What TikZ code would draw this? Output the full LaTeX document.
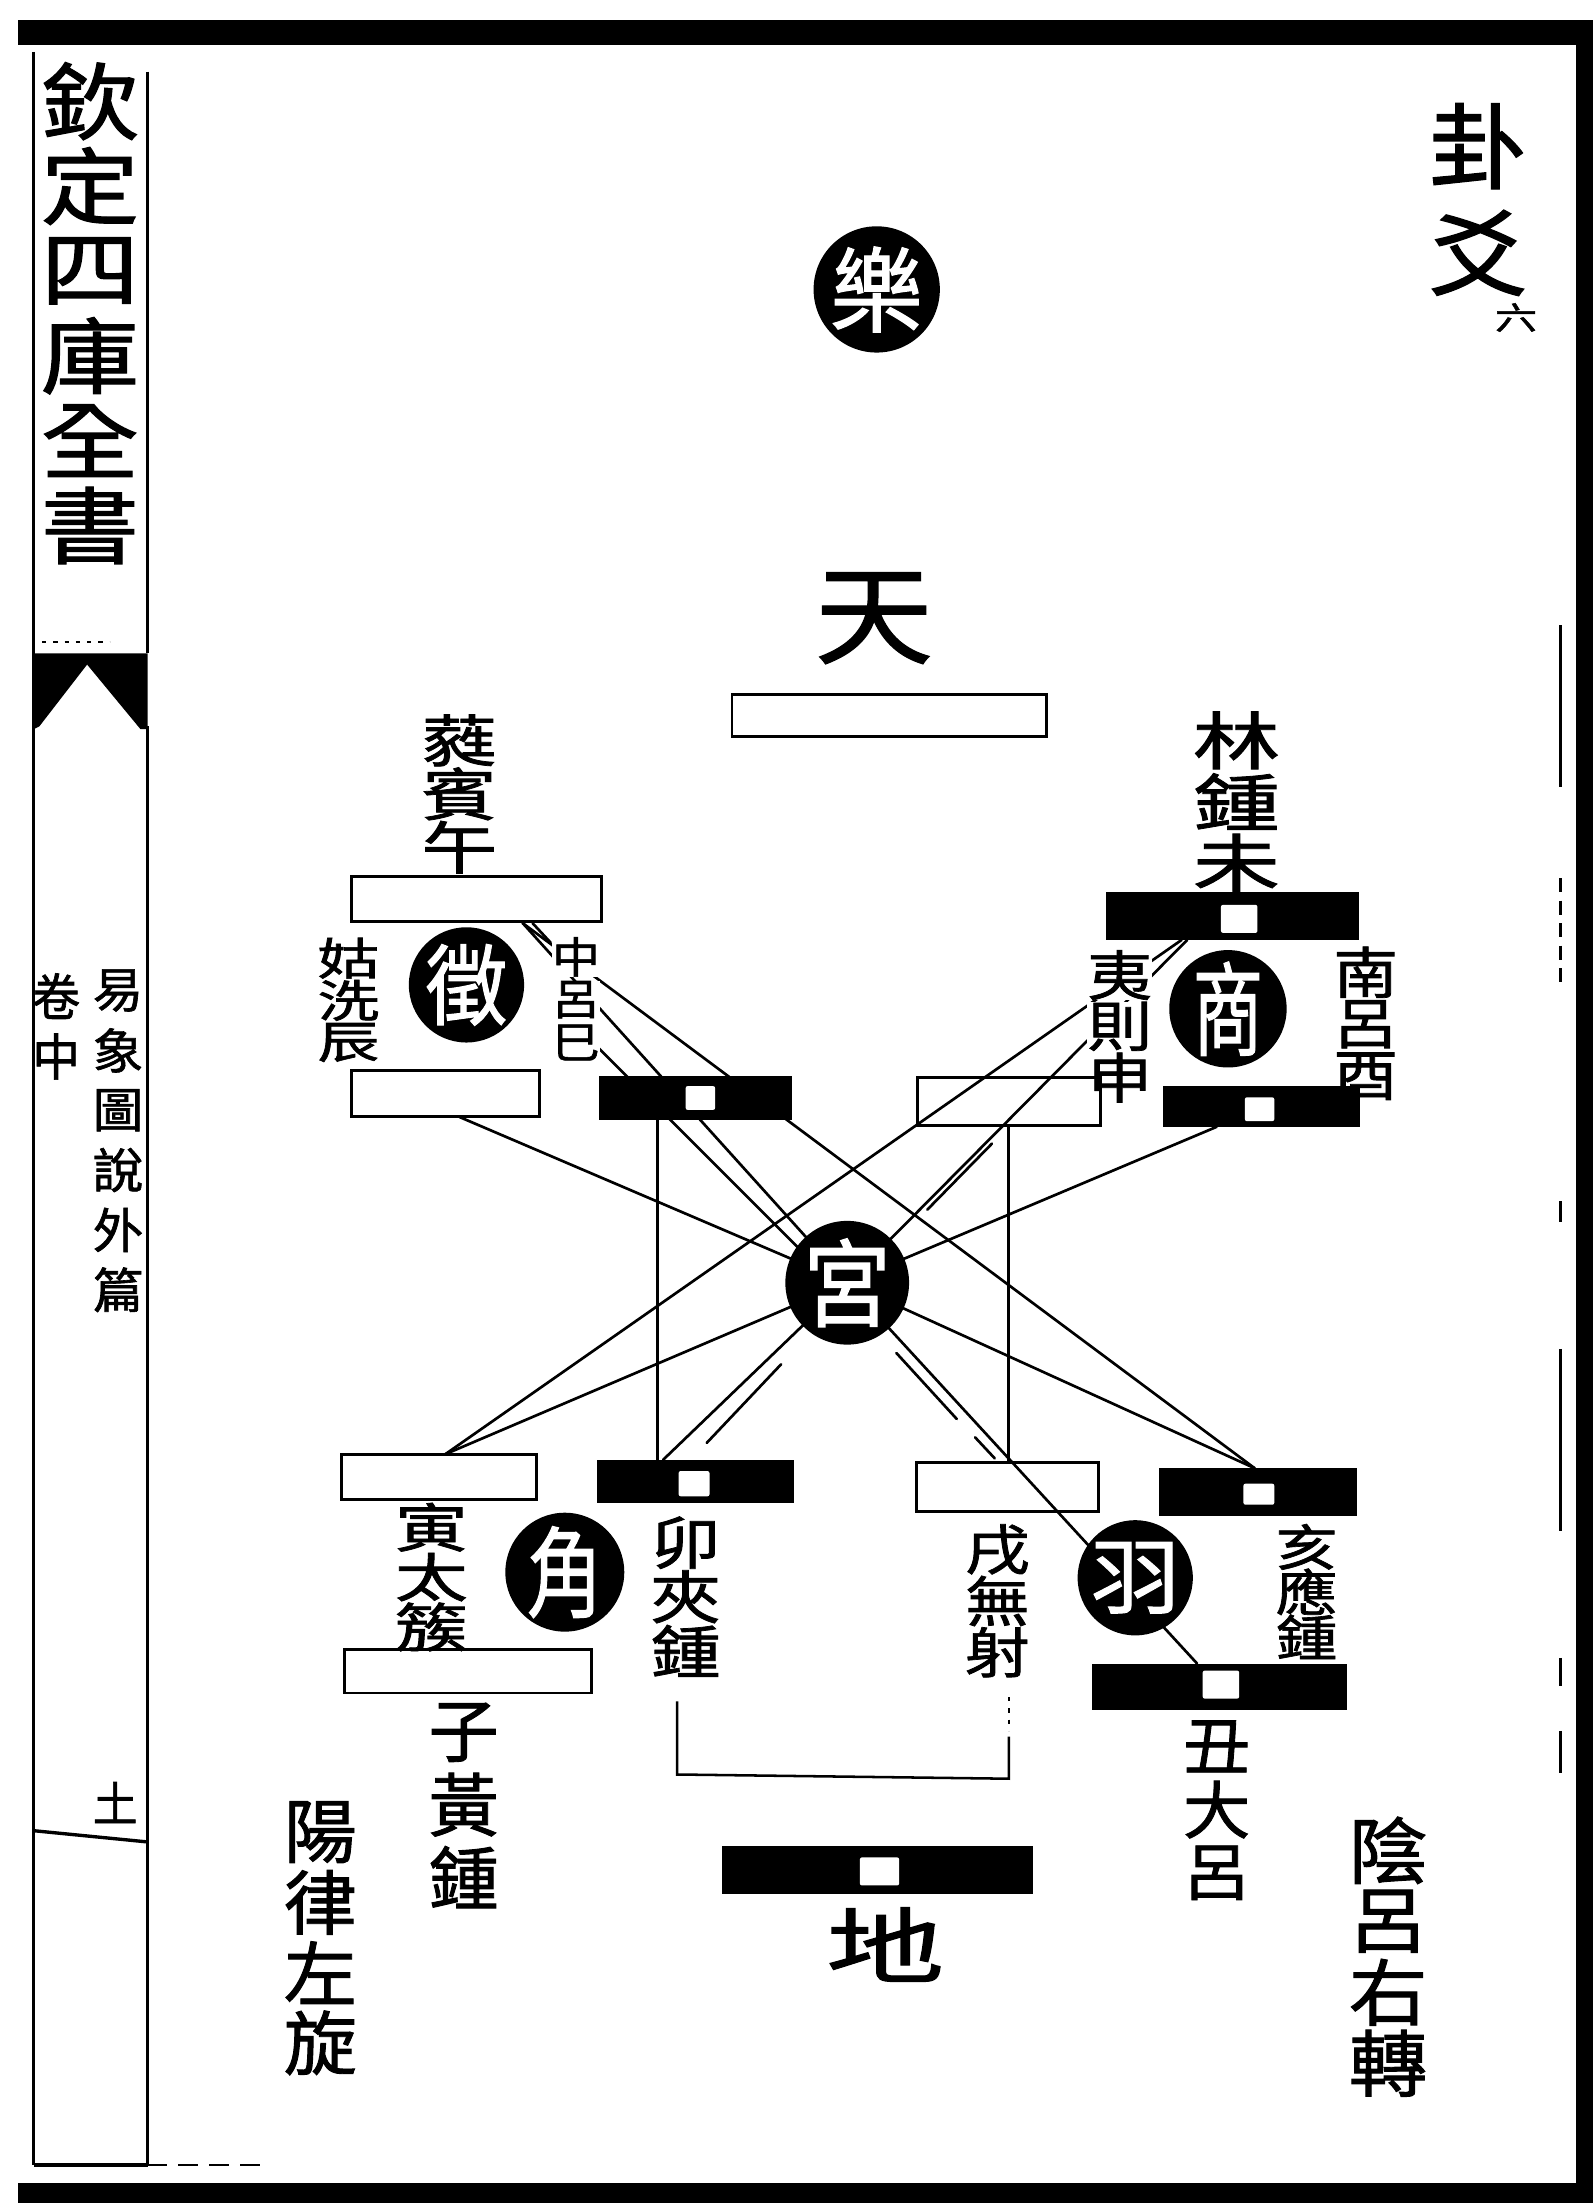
\documentclass[tikz,border=0pt]{standalone}
\usepackage{fontspec}
\usepackage{graphicx}
\newfontfamily\cjk[FakeBold=1.3]{Noto Sans CJK TC}
\usetikzlibrary{backgrounds}
\tikzset{
  conn/.style={line width=1.9pt, line cap=round},
  wbarst/.style={draw, line width=2.1pt, inner sep=0pt, outer sep=0pt},
  bbarst/.style={fill=black, inner sep=0pt, outer sep=0pt},
  sqst/.style={fill=white, inner sep=0pt, outer sep=0pt, rounded corners=1.5pt},
  discst/.style={circle, fill=black, text=white, inner sep=0pt},
  lbl/.style={inner sep=0pt, outer sep=0pt},
  colline/.style={line width=2.4pt},
}
\newcommand\myvcol[8]{%
  \foreach \ch [count=\i] in {#8}{%
    \node[lbl,#7,font=\cjk\fontsize{#5}{#5}\selectfont] (#1\i) at (#2,{#3+(\i-1)*(#4)}) {\scalebox{1}[#6]{\ch}};}}
\newcommand\mydisc[7]{%
  \node[discst, minimum size={2*#4*1pt}, font=\cjk\fontsize{#5}{#5}\selectfont] (#1) at (#2,#3) {\scalebox{1}[#6]{#7}};}
\newcommand\mywbar[5]{%
  \node[wbarst, minimum width={(#4-#2)*1pt}, minimum height={(#5-#3)*1pt}] (#1) at ({(#2+#4)/2},{(#3+#5)/2}) {};}
\newcommand\mybbar[9]{%
  \node[bbarst, minimum width={(#4-#2)*1pt}, minimum height={(#5-#3)*1pt}] (#1) at ({(#2+#4)/2},{(#3+#5)/2}) {};%
  \node[sqst, minimum width={(#8-#6)*1pt}, minimum height={(#9-#7)*1pt}] (#1sq) at ({(#6+#8)/2},{(#7+#9)/2}) {};}
\begin{document}
\begin{tikzpicture}[x=1pt,y=-1pt]
\useasboundingbox (0,0) rectangle (1134,1568);
% ---------- page frame ----------
\fill (13,14) rectangle (1134,32);
\fill (1122,14) rectangle (1134,1568);
\fill (13,1554) rectangle (1134,1568);
\draw[colline] (24,37) -- (24,1541);
\draw[colline] (105,51) -- (105,465);
\draw[colline] (105,517) -- (105,1541);
\fill (24,465) -- (105,465) -- (105,519) -- (100,519) -- (62,473) -- (28,517) -- (24,519) -- cycle;
\draw[line width=1.2pt, dash pattern=on 3pt off 5pt] (30,457) -- (78,457);
\draw[colline] (24,1303) -- (105,1311);
\draw[colline] (24,1541) -- (105,1541);
\draw[line width=2pt, dash pattern=on 14pt off 8pt] (105,1541) -- (190,1541);
\draw[line width=2.2pt] (1111,445) -- (1111,560);
\draw[line width=2.2pt, dash pattern=on 10pt off 6pt] (1111,625) -- (1111,700);
\draw[line width=2.2pt] (1111,855) -- (1111,870);
\draw[line width=2.2pt] (1111,960) -- (1111,1090);
\draw[line width=2.2pt] (1111,1180) -- (1111,1200);
\draw[line width=2.2pt] (1111,1232) -- (1111,1262);
% ---------- margin texts ----------
\myvcol{tt}{64}{72}{60.4}{70}{0.85}{}{欽,定,四,庫,全,書}
\myvcol{jn}{40}{709}{43}{34}{1.05}{}{卷,中}
\myvcol{ys}{84}{705}{42.6}{36}{0.95}{}{易,象,圖,說,外,篇}
\node[lbl,font=\cjk\fontsize{32}{32}\selectfont] (pg) at (82,1283) {\scalebox{1}[1.05]{土}};
\myvcol{gy}{1052}{104}{76}{70}{0.95}{}{卦,爻}
\node[lbl,font=\cjk\fontsize{30}{30}\selectfont] (liu) at (1079,226) {\scalebox{1}[0.75]{六}};
% ---------- diagram nodes ----------
\mydisc{yue}{624}{206}{44}{66}{1}{樂}
\node[lbl,font=\cjk\fontsize{84}{84}\selectfont] (tian) at (622,440) {\scalebox{1}[0.92]{天}};
\mywbar{tianbar}{521}{494}{745}{524}
\mywbar{rbbar}{250}{624}{428}{656}
\mywbar{gxbar}{250}{762}{384}{795}
\mybbar{zlbar}{426}{766}{564}{797}{488}{773}{509}{790}
\mywbar{yzbar}{653}{767}{783}{801}
\mybbar{ljbar}{787}{635}{967}{669}{869}{644}{895}{664}
\mybbar{nlbar}{828}{773}{968}{802}{886}{781}{907}{798}
\mydisc{gong}{603}{913}{43}{62}{1.1}{宮}
\mydisc{zhi}{332}{701}{38}{58}{1.08}{徵}
\mydisc{shang}{874}{718}{41}{50}{1.45}{商}
\mywbar{tcbar}{243}{1035}{382}{1067}
\mybbar{jzbar}{425}{1039}{565}{1070}{483}{1047}{505}{1065}
\mydisc{jiao}{402}{1119}{41}{54}{1.3}{角}
\mywbar{hzbar}{245}{1174}{421}{1205}
\mywbar{wsbar}{652}{1041}{782}{1076}
\mybbar{yjbar}{825}{1045}{966}{1079}{885}{1056}{907}{1071}
\mydisc{yu}{808}{1123}{41}{64}{0.92}{羽}
\mybbar{dlbar}{777}{1184}{959}{1217}{856}{1189}{882}{1209}
\mybbar{dibar}{514}{1314}{735}{1348}{612}{1322}{640}{1342}
\node[lbl,font=\cjk\fontsize{84}{84}\selectfont] (di) at (630,1384) {\scalebox{1}[0.7]{地}};
% ---------- labels ----------
\myvcol{rb}{327}{527}{38}{54}{0.75}{}{蕤,賓,午}
\myvcol{gx}{248}{682}{30}{44}{0.72}{}{姑,洗,辰}
\myvcol{zl}{410}{681}{30.5}{34}{0.9}{fill=white}{中,呂,巳}
\myvcol{lj}{880}{527}{43.5}{62}{0.72}{}{林,鍾,未}
\myvcol{yz}{797}{694}{36.5}{46}{0.84}{fill=white}{夷,則}
\node[lbl,font=\cjk\fontsize{46}{46}\selectfont] (yz3) at (797,767) {\scalebox{1}[0.84]{申}};
\myvcol{nl}{972}{692}{37}{46}{0.86}{}{南,呂,酉}
\myvcol{tc}{307}{1087}{35.5}{52}{0.72}{}{寅,太,簇}
\myvcol{jz}{488}{1098}{38.5}{50}{0.82}{}{卯,夾,鍾}
\myvcol{hz}{330}{1233}{51.5}{50}{0.98}{}{子,黃,鍾}
\myvcol{yl}{228}{1304}{50}{52}{0.96}{}{陽,律,左,旋}
\myvcol{ws}{710}{1103}{36.5}{46}{0.84}{}{戌,無,射}
\myvcol{yj}{930}{1101}{32}{44}{0.8}{}{亥,應,鍾}
\myvcol{dl}{866}{1243}{45}{48}{0.93}{}{丑,大,呂}
\myvcol{yy}{988}{1317}{50.5}{56}{0.92}{}{陰,呂,右,轉}
% bracket under the two middle labels
\draw[line width=1.8pt] (482,1211) -- (482,1263) -- (718,1266) -- (718,1236);
\draw[line width=1.8pt, dash pattern=on 3pt off 5pt] (718,1208) -- (718,1232);
% ---------- connectors (behind) ----------
\coordinate (rbP) at (372,657);
\coordinate (rbS1) at (379,657);
\coordinate (rbS2) at (392,671);
\coordinate (zlA) at (426,746);
\coordinate (gongUL) at (575,895);
\coordinate (gxP) at (327,795);
\coordinate (zlV) at (468,797);
\coordinate (jzV) at (468,1039);
\coordinate (ljP) at (845,669);
\coordinate (ljQ) at (841,669);
\coordinate (tcP) at (317,1035);
\coordinate (nlP) at (866,802);
\coordinate (yjP) at (893,1045);
\coordinate (yzV) at (718,801);
\coordinate (wsV) at (718,1041);
\coordinate (jzP) at (472,1039);
\coordinate (dlP) at (852,1184);
\coordinate (ljS1) at (706,814);
\coordinate (ljS2) at (660,861);
\coordinate (jzS1) at (556,971);
\coordinate (jzS2) at (503,1027);
\coordinate (dlS1) at (638,963);
\coordinate (dlS2) at (681,1010);
\coordinate (dlS3) at (694,1023);
\coordinate (dlS4) at (708,1038);
\begin{pgfonlayer}{background}
  \fill[white] (0,0) rectangle (1134,1568);
  \draw[conn] (rbP) -- (gong.center);
  \draw[conn] (rbP) -- (yjP);
  \draw[conn] (rbS1) -- (rbS2);
  \draw[conn] (zlA) -- (gongUL);
  \draw[conn] (gxP) -- (gong.center);
  \draw[conn] (zlV) -- (jzV);
  \draw[conn] (ljP) -- (gong.center);
  \draw[conn] (ljQ) -- (tcP);
  \draw[conn] (ljS1) -- (ljS2);
  \draw[conn] (nlP) -- (gong.center);
  \draw[conn] (yjP) -- (gong.center);
  \draw[conn] (tcP) -- (gong.center);
  \draw[conn] (yzV) -- (wsV);
  \draw[conn] (gong.center) -- (jzP);
  \draw[conn] (jzS1) -- (jzS2);
  \draw[conn] (gong.center) -- (dlP);
  \draw[conn] (dlS1) -- (dlS2);
  \draw[conn] (dlS3) -- (dlS4);
\end{pgfonlayer}
\end{tikzpicture}
\end{document}
